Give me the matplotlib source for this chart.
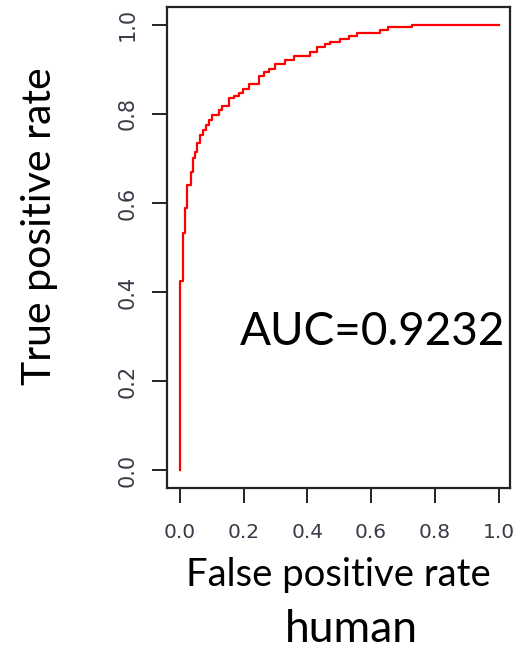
import matplotlib
matplotlib.use("Agg")
import matplotlib.pyplot as plt

# ROC curve corners (step function, horizontal then vertical)
fpr = [0, 0, 0.010, 0.017, 0.023, 0.034, 0.040, 0.047, 0.054, 0.065, 0.073,
       0.081, 0.091, 0.100, 0.122, 0.133, 0.154, 0.169, 0.185, 0.199, 0.216,
       0.248, 0.263, 0.279, 0.300, 0.331, 0.357, 0.410, 0.431, 0.457, 0.472,
       0.504, 0.530, 0.556, 0.627, 0.652, 0.728, 1.0]
tpr = [0, 0.425, 0.532, 0.588, 0.640, 0.670, 0.700, 0.715, 0.734, 0.753,
       0.764, 0.775, 0.787, 0.798, 0.809, 0.818, 0.835, 0.840, 0.848, 0.855,
       0.867, 0.885, 0.893, 0.901, 0.912, 0.921, 0.930, 0.940, 0.951, 0.957,
       0.962, 0.968, 0.975, 0.982, 0.989, 0.994, 1.0, 1.0]
auc = 0.9232
ticks = [0.0, 0.2, 0.4, 0.6, 0.8, 1.0]
tick_labels = ["0.0", "0.2", "0.4", "0.6", "0.8", "1.0"]

big_font = "Lato"
tick_color = "#3a3a48"

fig = plt.figure(figsize=(5.29, 6.51), dpi=100)
ax = fig.add_axes([167 / 529, 1 - 488 / 651, (510 - 167) / 529, (488 - 7) / 651])

ax.step(fpr, tpr, where="post", color="#ff0000", lw=1.6)

ax.set_xlim(-0.04, 1.036)
ax.set_ylim(-0.04, 1.04)
ax.set_xticks(ticks)
ax.set_yticks(ticks)
ax.set_xticklabels(tick_labels, fontsize=14.5, color=tick_color, family="DejaVu Sans")
ax.set_yticklabels(tick_labels, fontsize=15, color=tick_color, family="DejaVu Sans",
                   rotation=90, va="center")
ax.tick_params(length=11, width=1.4, color="#222222")
ax.tick_params(axis="x", pad=14)
ax.tick_params(axis="y", pad=10)
for s in ax.spines.values():
    s.set_linewidth(1.6)
    s.set_color("#222222")

ax.set_xlabel("False positive rate", family=big_font, fontsize=27.5)
ax.xaxis.set_label_coords(0.5, -0.143)
ax.set_ylabel("True positive rate", family=big_font, fontsize=29.5)
ax.yaxis.set_label_coords(-0.318, 0.545)

ax.text(0.19, 0.281, f"AUC={auc}", family=big_font, fontsize=33, va="baseline", ha="left")

fig.text(351 / 529, 1 - 630 / 651, "human", family=big_font, fontsize=32, ha="center", va="center")

fig.savefig("out.png", dpi=100)
